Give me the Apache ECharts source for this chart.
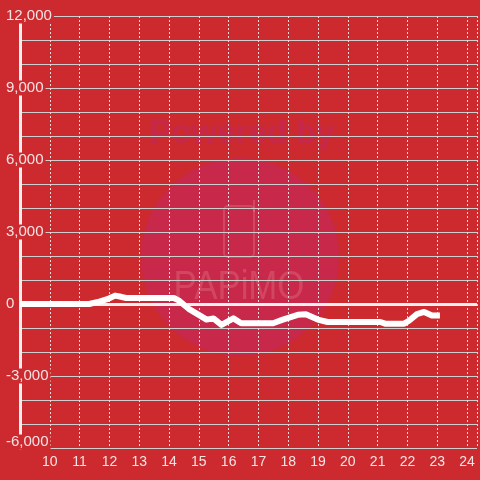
<!DOCTYPE html>
<html>
<head>
<meta charset="utf-8">
<script src="https://cdn.jsdelivr.net/npm/echarts@6/dist/echarts.min.js"></script>
<style>
html,body{margin:0;padding:0;background:#cc2a2f;}
#c{width:480px;height:480px;}
</style>
</head>
<body>
<div id="c"></div>
<script>
// Data (hour of day, value)
const hours  = [9, 11.32, 11.66, 11.93, 12.19, 12.39, 12.56, 14.16, 14.32, 14.66, 15.0, 15.26, 15.49, 15.76, 16.16, 16.42, 17.49, 17.82, 18.32, 18.59, 18.99, 19.32, 21.09, 21.25, 21.89, 22.05, 22.32, 22.56, 22.82, 23.09];
const values = [0, 0, 100, 200, 350, 300, 250, 250, 150, -200, -450, -650, -600, -870, -600, -800, -800, -650, -450, -430, -650, -750, -750, -820, -820, -700, -420, -330, -480, -480];
const yTickLabels = [-6000, -3000, 0, 3000, 6000, 9000, 12000];
const xTickLabels = [10, 11, 12, 13, 14, 15, 16, 17, 18, 19, 20, 21, 22, 23, 24];

const BG = '#cc2a2f';
const TXT = '#f2e4e4';
const WM = 'rgba(255,190,190,0.2)';
const chart = echarts.init(document.getElementById('c'));
chart.setOption({
  animation: false,
  backgroundColor: BG,
  grid: {left: 20, right: 0, top: 16, bottom: 32, containLabel: false},
  graphic: [
    {type: 'circle', z: -10, silent: true, shape: {cx: 240, cy: 257, r: 99}, style: {fill: '#c8284a'}},
    {type: 'text', z: -9, silent: true, x: 242, y: 134, style: {text: 'Powered by', fill: '#c6284a', font: 'bold 33px "Liberation Sans"', align: 'center', verticalAlign: 'middle'}},
    {type: 'rect', z: -9, silent: true, shape: {x: 224, y: 206, width: 30, height: 51, r: 4}, style: {fill: null, stroke: WM, lineWidth: 2}},
    {type: 'line', z: -9, silent: true, shape: {x1: 254, y1: 200, x2: 254, y2: 212}, style: {stroke: WM, lineWidth: 2}},
    {type: 'text', z: -9, silent: true, x: 239, y: 288, scaleX: 0.87, style: {text: 'PAPiMO', fill: WM, font: '40px "Liberation Sans"', align: 'center', verticalAlign: 'middle'}}
  ],
  xAxis: {
    type: 'value', min: 9, max: 24.3333, interval: 1,
    axisLine: {show: false}, axisTick: {show: false},
    splitLine: {show: true, lineStyle: {color: '#e6dcdc', type: [2, 2], width: 1}},
    axisLabel: {
      color: TXT, fontSize: 14, fontFamily: 'Liberation Sans', margin: 7,
      formatter: v => xTickLabels.indexOf(v) >= 0 ? String(v) : ''
    }
  },
  yAxis: {
    type: 'value', min: -6000, max: 12000, interval: 1000,
    axisLine: {show: true, lineStyle: {color: '#f4f0f0', width: 3}},
    axisTick: {show: false},
    splitLine: {show: true, lineStyle: {color: '#cfcfcf', width: 1}},
    axisLabel: {
      align: 'left', margin: 16, fontSize: 15, fontFamily: 'Liberation Sans', color: TXT,
      formatter: v => {
        if (yTickLabels.indexOf(v) < 0) return '';
        const s = v.toLocaleString('en-US');
        return v === yTickLabels[0] ? '{b|' + s + '}\n{d| }' : '{b|' + s + '}';
      },
      rich: {
        b: {backgroundColor: BG, padding: [0, 2], color: TXT, fontSize: 15, fontFamily: 'Liberation Sans', lineHeight: 14},
        d: {fontSize: 10, lineHeight: 12}
      }
    }
  },
  series: [{
    type: 'line',
    data: hours.map((h, i) => [h, values[i]]),
    showSymbol: false,
    lineStyle: {color: '#ffffff', width: 6, join: 'round'},
    z: 5,
    markLine: {
      silent: true, symbol: 'none', label: {show: false},
      lineStyle: {color: '#f4f0f0', width: 3, type: 'solid'},
      data: [{yAxis: 0}]
    }
  }]
});
</script>
</body>
</html>
